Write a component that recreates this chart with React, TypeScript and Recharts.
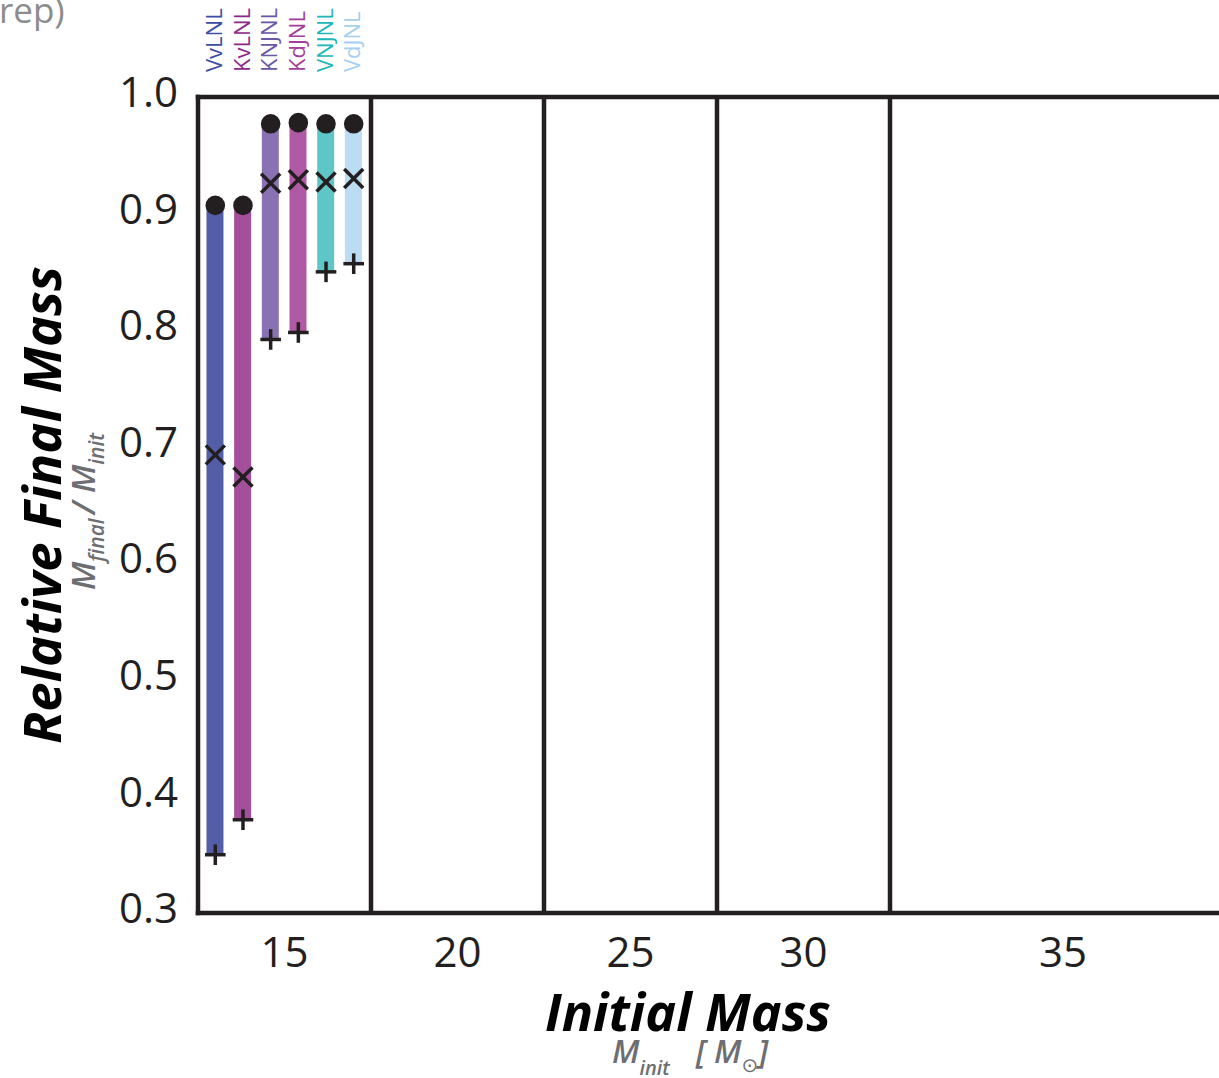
import React from "react";
import { Bar, Cell, ComposedChart, LabelList, ReferenceLine, Scatter, XAxis, YAxis } from "recharts";

const FONT = "'Open Sans', 'Noto Sans', 'DejaVu Sans', sans-serif";
const INK = "#231f20";
const GREY = "#6d6e71";

// initial-mass groups (x axis)
const massLabels = ["15", "20", "25", "30", "35"];
const massTicks = [0.5, 1.5, 2.5, 3.5, 5];
const groupEdges = [1, 2, 3, 4];

// runs in the 15 Msun group
const models = ["VvLNL", "KvLNL", "KNJNL", "KdJNL", "VNJNL", "VdJNL"];
const maxRel = [0.907, 0.907, 0.977, 0.978, 0.977, 0.977];
const meanRel = [0.693, 0.674, 0.926, 0.929, 0.927, 0.93];
const minRel = [0.35, 0.38, 0.792, 0.798, 0.85, 0.857];
const barColors = ["#535ea9", "#a44f9b", "#8872b3", "#b059a4", "#5fc6c8", "#bbdcf2"];
const labelColors = ["#3d4ca5", "#8d2a88", "#6a57a6", "#a53d9b", "#21b7b8", "#a6cff0"];

const yTicks = [0.3, 0.4, 0.5, 0.6, 0.7, 0.8, 0.9, 1.0];

const rows = models.map((m, i) => ({
  model: m,
  x: 0.1 + i * 0.16,
  lo: minRel[i],
  mean: meanRel[i],
  hi: maxRel[i],
}));

const Dot = (p: any) => <circle cx={p.cx} cy={p.cy} r={9.8} fill={INK} />;

const Cross = (p: any) => {
  const d = 9.5;
  return (
    <g stroke={INK} strokeWidth={3.5}>
      <line x1={p.cx - d} y1={p.cy - d} x2={p.cx + d} y2={p.cy + d} />
      <line x1={p.cx - d} y1={p.cy + d} x2={p.cx + d} y2={p.cy - d} />
    </g>
  );
};

const Plus = (p: any) => {
  const d = 10.3;
  return (
    <g stroke={INK} strokeWidth={3.5}>
      <line x1={p.cx - d} y1={p.cy} x2={p.cx + d} y2={p.cy} />
      <line x1={p.cx} y1={p.cy - d} x2={p.cx} y2={p.cy + d} />
    </g>
  );
};

const XTick = ({ x, y, payload }: any) => (
  <text x={x} y={y + 54} textAnchor="middle" fontFamily={FONT} fontSize={42} fill={INK}>
    {massLabels[massTicks.indexOf(payload.value)]}
  </text>
);

const YTick = ({ x, y, payload }: any) => (
  <text x={x - 20} y={y - 5} dy="0.36em" textAnchor="end" fontFamily={FONT} fontSize={42} fill={INK}>
    {payload.value.toFixed(1)}
  </text>
);

const ModelLabel = ({ x, width, index, value }: any) => {
  const bx = x + width / 2 + 7;
  return (
    <text
      transform={`translate(${bx},72) rotate(-90)`}
      fontFamily={FONT}
      fontSize={22}
      fill={labelColors[index]}
    >
      {value}
    </text>
  );
};

export default function App() {
  const frame = { stroke: INK, strokeWidth: 4.5 };
  return (
    <div style={{ position: "absolute", left: 0, top: 0, width: 1219, height: 1078, overflow: "hidden", background: "#fff" }}>
      <ComposedChart
        width={1236}
        height={1078}
        data={rows}
        margin={{ top: 97, right: 0, left: 118, bottom: 105 }}
      >
        <XAxis
          type="number"
          dataKey="x"
          domain={[0, 6]}
          ticks={massTicks}
          allowDataOverflow
          axisLine={{ ...frame, strokeLinecap: "square" }}
          tickLine={false}
          tickSize={0}
          tickMargin={0}
          height={60}
          tick={<XTick />}
        />
        <YAxis
          type="number"
          domain={[0.3, 1.0]}
          ticks={yTicks}
          allowDataOverflow
          axisLine={{ ...frame, strokeLinecap: "square" }}
          tickLine={false}
          tickSize={0}
          tickMargin={0}
          width={80}
          tick={<YTick />}
        />
        <ReferenceLine y={1.0} {...frame} strokeLinecap="square" />
        {groupEdges.map((e) => (
          <ReferenceLine key={e} x={e} {...frame} />
        ))}
        <Bar dataKey={(d: any) => [d.lo, d.hi]} barSize={17} isAnimationActive={false}>
          {rows.map((r, i) => (
            <Cell key={r.model} fill={barColors[i]} />
          ))}
          <LabelList dataKey="model" content={<ModelLabel />} />
        </Bar>
        <Scatter dataKey="hi" shape={Dot} isAnimationActive={false} />
        <Scatter dataKey="mean" shape={Cross} isAnimationActive={false} />
        <Scatter dataKey="lo" shape={Plus} isAnimationActive={false} />
      </ComposedChart>

      <svg width={1219} height={1078} style={{ position: "absolute", left: 0, top: 0, pointerEvents: "none" }}>
        <text x={-1} y={23} fontFamily={FONT} fontSize={35} fill="#8c8c8c">
          rep)
        </text>
        <text
          transform="translate(61,505) rotate(-90)"
          textAnchor="middle"
          fontFamily={FONT}
          fontSize={52.5}
          fontWeight={700}
          fontStyle="italic"
          fill="#000"
        >
          Relative Final Mass
        </text>
        <text
          transform="translate(95,590) rotate(-90)"
          fontFamily={FONT}
          fontSize={33}
          fontWeight={600}
          fontStyle="italic"
          fill={GREY}
        >
          <tspan>M</tspan>
          <tspan dy={9} fontSize={21}>final</tspan>
          <tspan dy={-9} dx={4}>/ M</tspan>
          <tspan dy={9} fontSize={21}>init</tspan>
        </text>
        <text x={688} y={1031} textAnchor="middle" fontFamily={FONT} fontSize={52} fontWeight={700} fontStyle="italic" fill="#000">
          Initial Mass
        </text>
        <text x={612} y={1063} fontFamily={FONT} fontSize={32} fontWeight={600} fontStyle="italic" fill={GREY}>
          <tspan>M</tspan>
          <tspan dy={12} fontSize={20}>init</tspan>
          <tspan dy={-12} dx={26}>[ M</tspan>
          <tspan dy={9} fontSize={20} fontStyle="normal" fontWeight={400}>⊙</tspan>
          <tspan dy={-9}>]</tspan>
        </text>
      </svg>
    </div>
  );
}
